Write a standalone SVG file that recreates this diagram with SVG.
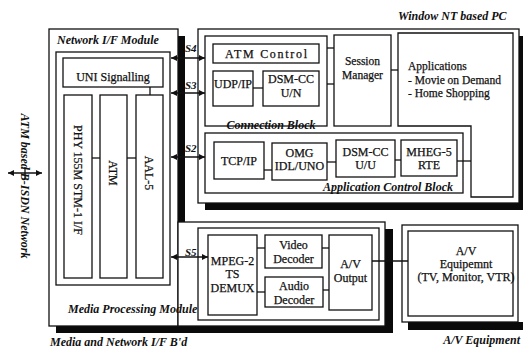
<svg xmlns="http://www.w3.org/2000/svg" width="523" height="352" viewBox="0 0 523 352">
<style>
.b{fill:#fff;stroke:#111;stroke-width:1.3}
.n{fill:none;stroke:#111;stroke-width:1.3}
.sh{fill:#0a0a0a}
text{font-family:"Liberation Serif","Times New Roman",serif;font-size:12px;fill:#111;stroke:#111;stroke-width:0.25}
.c{text-anchor:middle}
.bi{font-weight:bold;font-style:italic;stroke-width:0}
.s{font-weight:bold;font-style:italic;font-size:11px;stroke-width:0}
.sm{font-size:11.5px}
</style>
<defs>
<marker id="ah" viewBox="0 0 8 8" refX="8" refY="4" markerWidth="6" markerHeight="6" orient="auto-start-reverse" markerUnits="userSpaceOnUse"><path d="M0,0L8,4L0,8z" fill="#111"/></marker>
</defs>
<rect width="523" height="352" fill="#fff"/>

<g id="shadows">
<rect class="sh" x="178" y="36" width="7" height="186"/>
<rect class="sh" x="385" y="229" width="8" height="104"/>
<rect class="sh" x="56" y="326" width="337" height="7"/>
<rect class="sh" x="205" y="203" width="318" height="7"/>
<rect class="sh" x="519" y="36" width="4" height="174"/>
<rect class="sh" x="408" y="322" width="115" height="8"/>
</g>

<g id="network-if-module">
<rect class="b" x="49" y="29" width="129" height="297"/>
<text class="bi" x="57" y="44">Network I/F Module</text>
<rect class="b" x="56" y="52" width="114" height="233"/>
<g id="uni-signalling"><rect class="b" x="63" y="58" width="100" height="29"/><text class="c" x="113" y="81">UNI Signalling</text></g>
<g id="phy"><rect class="b" x="64" y="95" width="28" height="183"/><text class="c" transform="translate(78,180) rotate(90)" dy="0.35em">PHY 155M STM-1 I/F</text></g>
<g id="atm"><rect class="b" x="100" y="95" width="27" height="183"/><text class="c" transform="translate(113.5,173) rotate(90)" dy="0.35em">ATM</text></g>
<g id="aal5"><rect class="b" x="136" y="95" width="27" height="183"/><text class="c" transform="translate(149.5,173) rotate(90)" dy="0.35em">AAL-5</text></g>
</g>

<g id="media-processing-module">
<rect class="b" x="178" y="222" width="207" height="104"/>
<rect class="b" x="198" y="228" width="181" height="92"/>
<text class="bi" x="68" y="313">Media Processing Module</text>
<g id="mpeg2-demux"><rect class="b" x="208" y="235" width="49" height="80"/><text class="c" x="232.5" y="265">MPEG-2</text><text class="c" x="232.5" y="278">TS</text><text class="c" x="232.5" y="292">DEMUX</text></g>
<g id="video-decoder"><rect class="b" x="265" y="235" width="57" height="33"/><text class="c" x="293.5" y="249">Video</text><text class="c" x="293.5" y="263">Decoder</text></g>
<g id="audio-decoder"><rect class="b" x="265" y="277" width="58" height="30"/><text class="c" x="294" y="290">Audio</text><text class="c" x="294" y="304">Decoder</text></g>
<g id="av-output"><rect class="b" x="329" y="235" width="43" height="75"/><text class="c" x="350.5" y="268">A/V</text><text class="c" x="350.5" y="282">Output</text></g>
</g>

<g id="windows-nt-pc">
<rect class="b" x="198" y="29" width="321" height="174"/>
<text class="bi" x="398" y="20">Window NT based PC</text>
<g id="connection-block">
<rect class="b" x="205" y="36" width="122" height="90"/>
<text class="bi c" x="271" y="129">Connection Block</text>
<g id="atm-control"><rect class="b" x="213" y="44" width="106" height="19"/><text class="c" x="266" y="58" textLength="82">ATM Control</text></g>
<g id="udp-ip"><rect class="b" x="213" y="71" width="40" height="35"/><text class="c" x="233" y="88">UDP/IP</text></g>
<g id="dsmcc-un"><rect class="b" x="263" y="71" width="56" height="35"/><text class="c" x="291" y="83">DSM-CC</text><text class="c" x="291" y="97">U/N</text></g>
</g>
<g id="session-manager"><rect class="b" x="334" y="35" width="57" height="91"/><text class="c sm" x="362.5" y="65">Session</text><text class="c sm" x="362.5" y="79">Manager</text></g>
<g id="applications"><path class="b" d="M398,33H513V197H471V126H398Z"/><text class="sm" x="408" y="70">Applications</text><text class="sm" x="408" y="84">- Movie on Demand</text><text class="sm" x="408" y="97">- Home Shopping</text></g>
<g id="application-control-block">
<rect class="b" x="205" y="133" width="258" height="60"/>
<text class="bi" x="453" y="191" text-anchor="end">Application Control Block</text>
<g id="tcp-ip"><rect class="b" x="214" y="142" width="50" height="37"/><text class="c" x="239" y="165">TCP/IP</text></g>
<g id="omg-idl-uno"><rect class="b" x="272" y="143" width="55" height="37"/><text class="c" x="299.5" y="157">OMG</text><text class="c" x="299.5" y="170">IDL/UNO</text></g>
<g id="dsmcc-uu"><rect class="b" x="336" y="140" width="59" height="37"/><text class="c" x="365.5" y="156">DSM-CC</text><text class="c" x="365.5" y="169">U/U</text></g>
<g id="mheg5-rte"><rect class="b" x="401" y="140" width="56" height="36"/><text class="c" x="429" y="156">MHEG-5</text><text class="c" x="429" y="169">RTE</text></g>
</g>
</g>

<g id="av-equipment">
<rect class="b" x="402" y="225" width="116" height="97"/>
<rect class="b" x="408" y="231" width="105" height="85"/>
<text class="c" x="466" y="255">A/V</text>
<text class="c" x="466" y="268">Equipemnt</text>
<text class="c" x="466" y="281">(TV, Monitor, VTR)</text>
</g>

<g id="network-label">
<text class="bi c" transform="translate(25,186) rotate(90)" dy="0.35em">ATM based B-ISDN Network</text>
</g>

<g id="connectors">
<line class="n" x1="8" y1="173" x2="42" y2="173" marker-start="url(#ah)" marker-end="url(#ah)"/>
<line class="n" x1="25" y1="167" x2="25" y2="180"/>
<line class="n" x1="150" y1="87" x2="150" y2="95"/>
<line class="n" x1="92" y1="158" x2="100" y2="158"/>
<line class="n" x1="127" y1="158" x2="136" y2="158"/>
<line class="n" x1="171" y1="58" x2="205" y2="58" marker-start="url(#ah)" marker-end="url(#ah)"/>
<line class="n" x1="171" y1="93" x2="205" y2="93" marker-start="url(#ah)" marker-end="url(#ah)"/>
<line class="n" x1="171" y1="157" x2="205" y2="157" marker-start="url(#ah)" marker-end="url(#ah)"/>
<line class="n" x1="171" y1="257" x2="208" y2="257" marker-start="url(#ah)" marker-end="url(#ah)"/>
<line class="n" x1="327" y1="48" x2="334" y2="48"/>
<line class="n" x1="327" y1="84" x2="334" y2="84"/>
<line class="n" x1="391" y1="70" x2="398" y2="70"/>
<line class="n" x1="253" y1="88" x2="263" y2="88"/>
<line class="n" x1="264" y1="170" x2="272" y2="170"/>
<line class="n" x1="327" y1="162" x2="336" y2="162"/>
<line class="n" x1="395" y1="160" x2="401" y2="160"/>
<line class="n" x1="457" y1="161" x2="471" y2="161"/>
<line class="n" x1="257" y1="248" x2="265" y2="248"/>
<line class="n" x1="257" y1="292" x2="265" y2="292"/>
<line class="n" x1="322" y1="248" x2="329" y2="248"/>
<line class="n" x1="323" y1="290" x2="329" y2="290"/>
<line class="n" x1="372" y1="261" x2="408" y2="261"/>
<text class="s" x="185" y="52">S4</text>
<text class="s" x="185" y="89">S3</text>
<text class="s" x="185" y="152">S2</text>
<text class="s" x="185" y="256">S5</text>
</g>

<g id="footer-labels">
<text class="bi" x="50" y="346">Media and Network I/F B'd</text>
<text class="bi" x="520" y="344" text-anchor="end">A/V Equipment</text>
</g>
</svg>
